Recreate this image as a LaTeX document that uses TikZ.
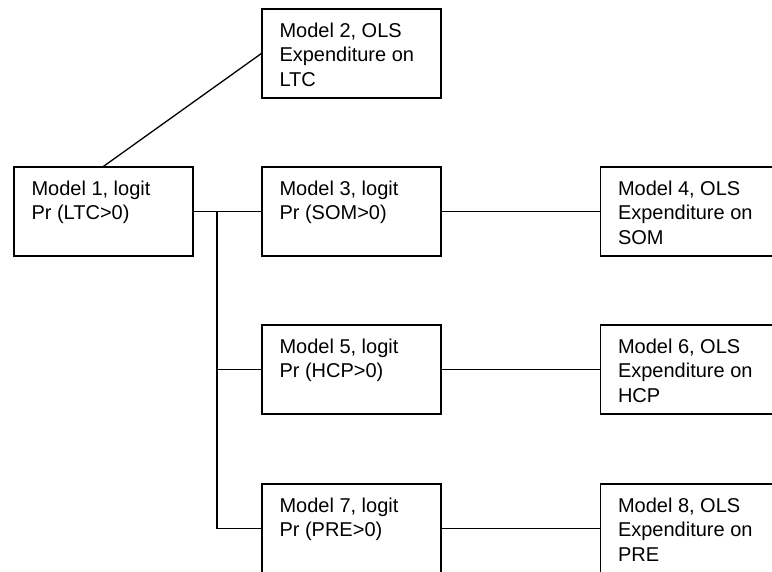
\documentclass[tikz,border=0pt]{standalone}
\usepackage{fontspec}
\setmainfont{Liberation Sans}
\usepackage{tikz}

\begin{document}
\begin{tikzpicture}[x=1pt,y=-1pt,line width=1.3pt,
  mbox/.style={draw,rectangle,minimum width=179pt,minimum height=89pt,inner sep=0},
  mtext/.style={anchor=north west,align=left,inner sep=0,xshift=17.5pt,yshift=-14pt,
    font=\fontsize{20pt}{24.3pt}\selectfont}]
\useasboundingbox (0,0) rectangle (772,571);
\clip (0,0) rectangle (772,571);
\node [mbox,label={[mtext]north west:{Model 1, logit\\Pr (LTC>0)}}] (m1) at (103.5,211.5) {};
\node [mbox,label={[mtext]north west:{Model 2, OLS\\Expenditure on\\LTC}}] (m2) at (351.5,53.5) {};
  \foreach \lg/\ols/\yy/\var in {3/4/211.5/SOM,5/6/369.5/HCP,7/8/528.5/PRE}
  {  \node [mbox,label={[mtext]north west:{Model \lg, logit\\Pr (\var>0)}}] (m\lg) at (351.5,\yy) {};
     \node [mbox,label={[mtext]north west:{Model \ols, OLS\\Expenditure on\\\var}}] (m\ols) at (690,\yy) {};
     \draw (m\lg.east) -- (m\ols.west);}
\coordinate (split) at (217,211.5);
\draw (m1.north) -- (m2.west);
\draw (m1.east) -- (m3.west);
\draw (split) -- (split |- m7.west) -- (m7.west);
\draw (split |- m5.west) -- (m5.west);
\end{tikzpicture}
\end{document}
